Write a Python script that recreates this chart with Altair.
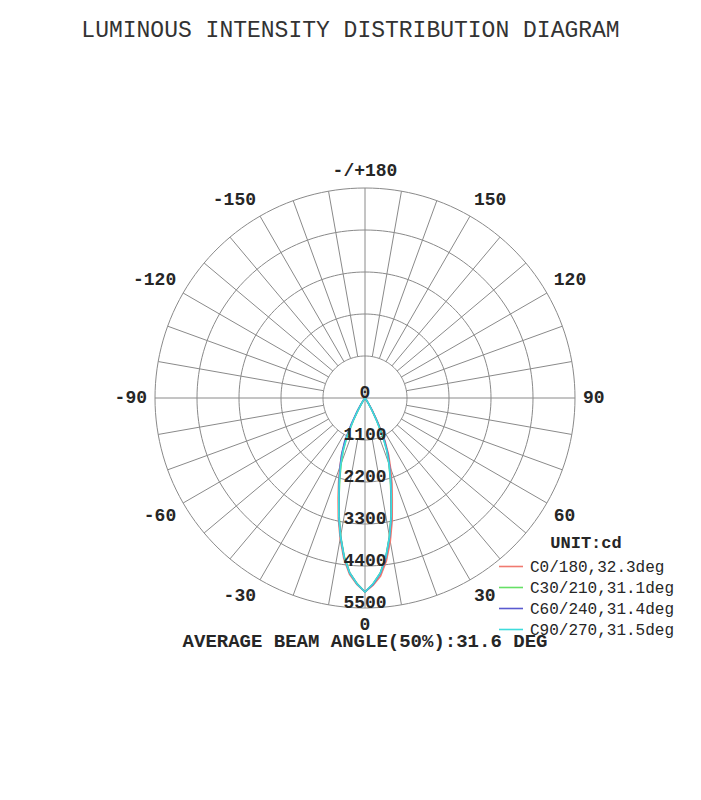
import altair as alt
import pandas as pd
import numpy as np

TITLE = "LUMINOUS INTENSITY DISTRIBUTION DIAGRAM"
CAPTION = "AVERAGE BEAM ANGLE(50%):31.6 DEG"
UNIT = "UNIT:cd"

# gamma angles (deg) of the measured points
gamma = [0, 2.5, 5, 7.5, 10, 12.5, 15, 17.5, 20, 22.5, 25, 27.5, 30, 32.5, 35, 37.5, 40]

plane_names = ["C0/180,32.3deg", "C30/210,31.1deg", "C60/240,31.4deg", "C90/270,31.5deg"]
plane_colors = ["#f07a70", "#66e066", "#5a5ad0", "#3edcdc"]

# intensities (cd), right half = C0/C30/C60/C90, left half = C180/C210/C240/C270
c0 = [5080, 4910, 4680, 4300, 3810, 3290, 2760, 2350, 1960, 1620, 1240, 760, 410, 190, 60, 20, 5]
c180 = [5080, 4890, 4640, 4250, 3740, 3230, 2720, 2300, 1930, 1590, 1210, 730, 390, 180, 55, 18, 5]
c30 = [5080, 4870, 4600, 4190, 3680, 3150, 2630, 2200, 1830, 1500, 1120, 660, 340, 150, 50, 15, 5]
c210 = [5080, 4860, 4590, 4180, 3670, 3140, 2620, 2190, 1820, 1490, 1110, 650, 330, 140, 45, 12, 5]
c60 = [5080, 4880, 4610, 4210, 3700, 3180, 2650, 2230, 1870, 1540, 1170, 700, 370, 160, 55, 18, 5]
c240 = [5080, 4870, 4600, 4200, 3690, 3170, 2640, 2240, 1900, 1600, 1260, 800, 430, 200, 70, 22, 5]
c90 = [5080, 4870, 4600, 4200, 3690, 3170, 2660, 2220, 1840, 1480, 1080, 620, 310, 130, 40, 12, 5]
c270 = [5080, 4870, 4600, 4200, 3690, 3170, 2650, 2230, 1860, 1520, 1140, 680, 350, 150, 50, 15, 5]

right_halves = [c0, c30, c60, c90]
left_halves = [c180, c210, c240, c270]

ring_values = [1100, 2200, 3300, 4400, 5500]
ring_label_values = [0, 1100, 2200, 3300, 4400, 5500]
angle_ticks = [0, 30, 60, 90, 120, 150, 180, -150, -120, -90, -60, -30]
angle_tick_labels = ["0", "30", "60", "90", "120", "150", "-/+180",
                     "-150", "-120", "-90", "-60", "-30"]
spoke_step = 10

# ---------------- layout ----------------
FONT = "Liberation Mono"
W, H = 685, 650
PAD_TOP = 11
TITLE_FS = 23
TITLE_OFFSET = 4
T = 8 + PAD_TOP + TITLE_FS + TITLE_OFFSET   # plot-area top on page (px)
CX, CY = 365, 398                           # polar centre on page (px)
RMAX_PX = 210
RMAX = ring_values[-1]
S = RMAX / RMAX_PX                          # cd per px
xdom = [-(CX - 8) * S, (8 + W - CX) * S]
ydom = [-(T + H - CY) * S, (CY - T) * S]
R_LABEL = RMAX + 8 * S
CAPTION_Y = -(RMAX + 33 * S)

X = alt.X("x:Q", scale=alt.Scale(domain=xdom, nice=False, zero=False), axis=None)
Y = alt.Y("y:Q", scale=alt.Scale(domain=ydom, nice=False, zero=False), axis=None)
GRID = "#8a8a8a"
TXT = "#262626"

# ---------------- grid: rings ----------------
ring_rows = []
for r in ring_values:
    for a in range(0, 361, 2):
        ring_rows.append({"r": r, "a": a})
rings = alt.Chart(pd.DataFrame(ring_rows)).transform_calculate(
    x="datum.r*sin(datum.a*PI/180)", y="-datum.r*cos(datum.a*PI/180)"
).mark_line(stroke=GRID, strokeWidth=1).encode(
    x=X, y=Y, detail="r:N", order="a:Q"
)

# ---------------- grid: spokes ----------------
spoke_rows = []
for a in range(0, 360, spoke_step):
    spoke_rows.append({"a": a, "r0": 0 if a % 90 == 0 else ring_values[0], "r1": RMAX})
spokes = alt.Chart(pd.DataFrame(spoke_rows)).transform_calculate(
    x="datum.r0*sin(datum.a*PI/180)", y="-datum.r0*cos(datum.a*PI/180)",
    x2="datum.r1*sin(datum.a*PI/180)", y2="-datum.r1*cos(datum.a*PI/180)"
).mark_rule(stroke=GRID, strokeWidth=1).encode(
    x=X, y=Y, x2="x2:Q", y2="y2:Q"
)

# ---------------- curves ----------------
rows = []
for name, right, left in zip(plane_names, right_halves, left_halves):
    k = 0
    for g, v in zip(gamma[::-1], left[::-1]):
        rows.append({"plane": name, "a": -g, "I": v, "ord": k}); k += 1
    for g, v in zip(gamma, right):
        rows.append({"plane": name, "a": g, "I": v, "ord": k}); k += 1
curves = alt.Chart(pd.DataFrame(rows)).transform_calculate(
    x="datum.I*sin(datum.a*PI/180)", y="-datum.I*cos(datum.a*PI/180)"
).mark_line(strokeWidth=1.6).encode(
    x=X, y=Y, order="ord:Q",
    color=alt.Color(
        "plane:N",
        scale=alt.Scale(domain=plane_names, range=plane_colors),
        legend=alt.Legend(
            title=UNIT, orient="none", legendX=490, legendY=535 - T,
            titleFont=FONT, titleFontSize=17, titleFontWeight="bold", titleColor=TXT,
            titleAnchor="middle", titlePadding=4,
            labelFont=FONT, labelFontSize=16, labelColor=TXT, labelFontWeight="normal",
            symbolType="stroke", symbolStrokeWidth=1.6, symbolSize=576,
            clipHeight=21, rowPadding=0, labelOffset=6, padding=0,
        ),
    ),
)

# ---------------- angle labels ----------------
lab = pd.DataFrame({"a": angle_ticks, "t": angle_tick_labels})
s = np.sin(np.radians(lab["a"]))
c = np.cos(np.radians(lab["a"]))
lab["align"] = np.where(s > 0.01, "left", np.where(s < -0.01, "right", "center"))
lab["baseline"] = np.where(c < -0.01, "bottom", np.where(c > 0.01, "top", "middle"))
lab["r"] = R_LABEL
angle_layers = []
for (al, bl), sub in lab.groupby(["align", "baseline"]):
    angle_layers.append(
        alt.Chart(sub[["a", "t", "r"]]).transform_calculate(
            x="datum.r*sin(datum.a*PI/180)", y="-datum.r*cos(datum.a*PI/180)"
        ).mark_text(align=al, baseline=bl, font=FONT, fontSize=18,
                    fontWeight="bold", color=TXT).encode(x=X, y=Y, text="t:N")
    )

# ---------------- ring labels ----------------
ring_labels = alt.Chart(pd.DataFrame({"v": ring_label_values})).transform_calculate(
    x="0", y="-datum.v", t="toString(datum.v)"
).mark_text(align="center", baseline="alphabetic", font=FONT, fontSize=18,
            fontWeight="bold", color=TXT).encode(x=X, y=Y, text="t:N")

# ---------------- caption ----------------
caption = alt.Chart(pd.DataFrame({"t": [CAPTION], "y": [CAPTION_Y]})).transform_calculate(
    x="0"
).mark_text(align="center", baseline="middle", font=FONT, fontSize=19,
            fontWeight="bold", color=TXT).encode(x=X, y=Y, text="t:N")

chart = alt.layer(rings, spokes, curves, *angle_layers, ring_labels, caption).properties(
    width=W, height=H,
    padding={"top": PAD_TOP, "left": 0, "right": 0, "bottom": 0},
    title=alt.TitleParams(TITLE, font=FONT, fontSize=TITLE_FS, fontWeight="normal",
                          color="#333333", anchor="middle", offset=TITLE_OFFSET),
    background="white",
).configure_view(stroke=None)

chart.save("out.html", embed_options={"renderer": "svg", "actions": False})
